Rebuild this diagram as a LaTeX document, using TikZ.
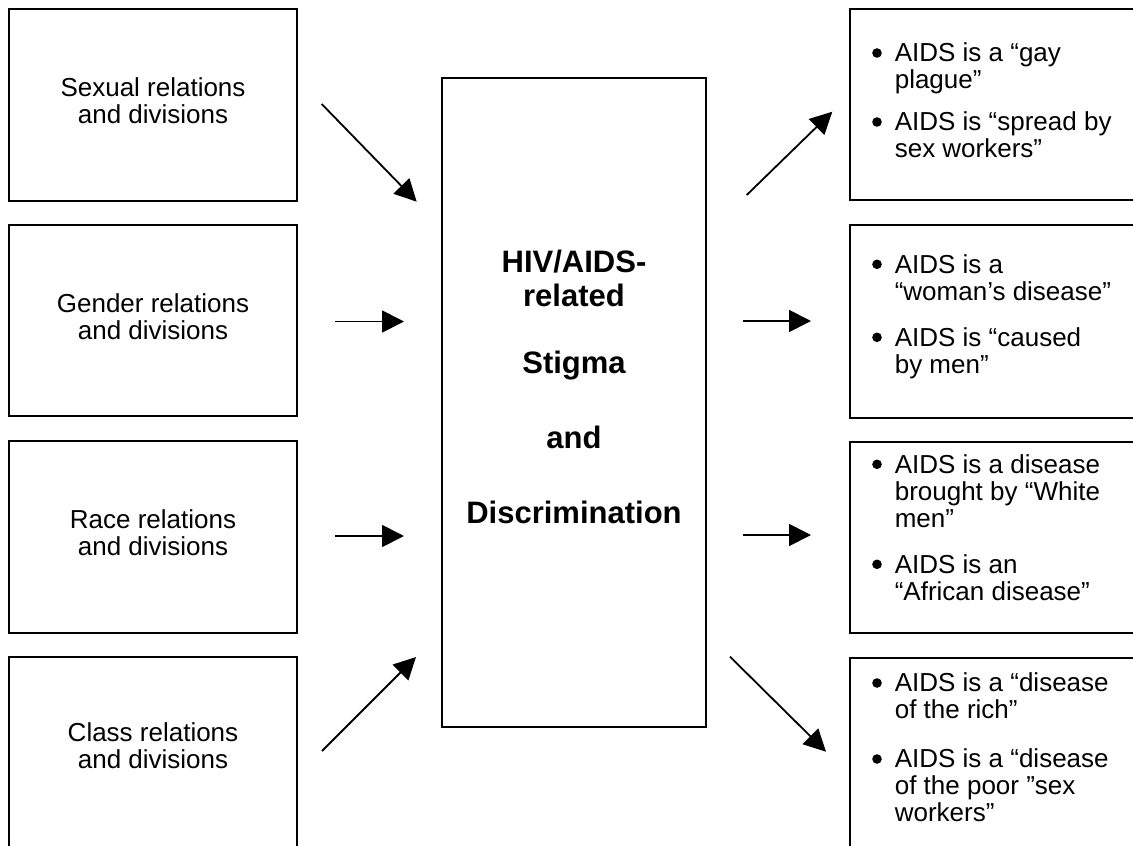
\documentclass[tikz,border=0pt]{standalone}
\usepackage{fontspec}
\setmainfont{Liberation Sans}
\usetikzlibrary{arrows.meta}
\newcommand\bigbul{\tikz[baseline=0pt,x=1pt,y=1pt]\fill (5,8.7) circle[radius=4.8];}
\begin{document}
\begin{tikzpicture}[x=1pt,y=-1pt,
  box/.style={draw, line width=1.5pt, inner sep=0pt, rectangle},
  arr/.style={line width=1.8pt, -{Triangle[length=22pt,width=22pt]}},
  ltext/.style={inner sep=0pt, anchor=base, font=\fontsize{26}{27}\selectfont},
  rtext/.style={inner sep=0pt, anchor=base west, font=\fontsize{26}{27}\selectfont},
  ctext/.style={inner sep=0pt, anchor=base, font=\fontsize{31}{34}\selectfont\bfseries}]
\useasboundingbox (0,0) rectangle (1133,846);
\clip (0,0) rectangle (1133,846);
\fill[white] (0,0) rectangle (1133,846);

% left boxes
\node[box, minimum width=288pt, minimum height=192pt] (sex) at (153,105) {};
\node[box, minimum width=288pt, minimum height=191pt] (gen) at (153,320.5) {};
\node[box, minimum width=288pt, minimum height=192pt] (race) at (153,537) {};
\node[box, minimum width=288pt, minimum height=213pt] (cls) at (153,763.5) {};

\node[ltext] (sext) at (153,96.9) {\begin{tabular}[t]{@{}c@{}}Sexual relations\\ and divisions\end{tabular}};
\node[ltext] (gent) at (153,312.4) {\begin{tabular}[t]{@{}c@{}}Gender relations\\ and divisions\end{tabular}};
\node[ltext] (racet) at (153,528.9) {\begin{tabular}[t]{@{}c@{}}Race relations\\ and divisions\end{tabular}};
\node[ltext] (clst) at (153,741.7) {\begin{tabular}[t]{@{}c@{}}Class relations\\ and divisions\end{tabular}};

% centre box
\node[box, minimum width=264pt, minimum height=649pt] (ctr) at (574,402.5) {};
\node[ctext] (ctrt) at (574,272) {\begin{tabular}[t]{@{}c@{}}HIV/AIDS-\\ related\\[33pt] Stigma\\[41pt] and\\[41pt] Discrimination\end{tabular}};

% right boxes
\node[box, minimum width=300pt, minimum height=191pt] (r1) at (1000,104.5) {};
\node[box, minimum width=300pt, minimum height=193pt] (r2) at (1000,321.5) {};
\node[box, minimum width=300pt, minimum height=191pt] (r3) at (1000,537.5) {};
\node[box, minimum width=300pt, minimum height=212pt] (r4) at (1000,764) {};

\node[rtext] (r1t) at (872,61.7) {\begin{tabular}[t]{@{}l@{\hspace{13pt}}l@{}}
\bigbul& AIDS is a “gay\\
 & plague”\\[15pt]
\bigbul& AIDS is “spread by\\
 & sex workers”
\end{tabular}};
\node[rtext] (r2t) at (872,273) {\begin{tabular}[t]{@{}l@{\hspace{13pt}}l@{}}
\bigbul& AIDS is a\\
 & “woman’s disease”\\[19pt]
\bigbul& AIDS is “caused\\
 & by men”
\end{tabular}};
\node[rtext] (r3t) at (872,473) {\begin{tabular}[t]{@{}l@{\hspace{13pt}}l@{}}
\bigbul& AIDS is a disease\\
 & brought by “White\\
 & men”\\[19pt]
\bigbul& AIDS is an\\
 & “African disease”
\end{tabular}};
\node[rtext] (r4t) at (872,691.7) {\begin{tabular}[t]{@{}l@{\hspace{13pt}}l@{}}
\bigbul& AIDS is a “disease\\
 & of the rich”\\[22pt]
\bigbul& AIDS is a “disease\\
 & of the poor ”sex\\
 & workers”
\end{tabular}};

% arrow end points
\coordinate (l1a) at (321.7,104);   \coordinate (l1b) at (416.7,201.7);
\coordinate (l2a) at (335,321.5);   \coordinate (l2b) at (404,321.5);
\coordinate (l3a) at (335,536);     \coordinate (l3b) at (404,536);
\coordinate (l4a) at (322,751);     \coordinate (l4b) at (416,657);
\coordinate (r1a) at (746.7,195);   \coordinate (r1b) at (832.3,111.7);
\coordinate (r2a) at (743.3,321);   \coordinate (r2b) at (811,321);
\coordinate (r3a) at (743.3,535);   \coordinate (r3b) at (811,535);
\coordinate (r4a) at (730,656.7);   \coordinate (r4b) at (826,751.7);

\draw[arr] (l1a) -- (l1b);
\draw[arr] (l2a) -- (l2b);
\draw[arr] (l3a) -- (l3b);
\draw[arr] (l4a) -- (l4b);
\draw[arr] (r1a) -- (r1b);
\draw[arr] (r2a) -- (r2b);
\draw[arr] (r3a) -- (r3b);
\draw[arr] (r4a) -- (r4b);
\end{tikzpicture}
\end{document}
